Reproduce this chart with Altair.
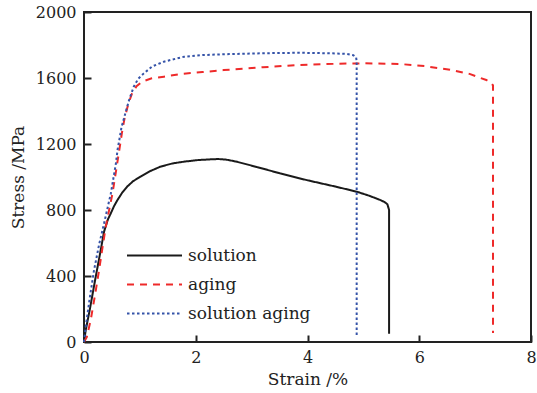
import altair as alt
import pandas as pd

# ---- data ----
series_names = ["solution", "aging", "solution aging"]

solution_strain = [0, 0.03, 0.1, 0.21, 0.29, 0.36, 0.43, 0.48, 0.54, 0.6, 0.68, 0.77, 0.88, 1.01, 1.18,
                   1.37, 1.58, 1.79, 2.05, 2.27, 2.4, 2.55, 2.73, 3.1, 3.51, 4.0, 4.5, 4.88, 5.1, 5.3,
                   5.38, 5.43, 5.46, 5.46]
solution_stress = [0, 70, 190, 396, 540, 670, 745, 780, 825, 861, 903, 941, 975, 1002, 1035,
                   1063, 1082, 1093, 1103, 1107, 1109, 1105, 1093, 1060, 1022, 980, 942, 911, 887, 861,
                   848, 835, 800, 50]

aging_strain = [0, 0.05, 0.12, 0.2, 0.27, 0.33, 0.39, 0.45, 0.51, 0.57, 0.63, 0.68, 0.72, 0.79, 0.86,
                0.94, 1.04, 1.2, 1.43, 1.72, 2.12, 2.5, 3.2, 3.86, 4.5, 5.0, 5.65, 6.1, 6.55, 6.9,
                7.08, 7.2, 7.28, 7.32, 7.32]
aging_stress = [0, 30, 133, 290, 436, 570, 700, 800, 900, 1030, 1160, 1270, 1345, 1440, 1507,
                1550, 1578, 1597, 1608, 1624, 1636, 1648, 1665, 1679, 1686, 1689, 1685, 1672, 1650, 1625,
                1602, 1588, 1574, 1555, 55]

sa_strain = [0, 0.03, 0.1, 0.18, 0.27, 0.36, 0.42, 0.48, 0.53, 0.57, 0.6, 0.64, 0.67, 0.74, 0.81,
             0.89, 0.97, 1.07, 1.22, 1.43, 1.79, 2.12, 2.6, 3.2, 3.86, 4.4, 4.7, 4.82, 4.87, 4.88,
             4.88]
sa_stress = [0, 90, 260, 436, 590, 720, 810, 900, 1000, 1080, 1164, 1240, 1300, 1386, 1470,
             1547, 1595, 1628, 1670, 1699, 1729, 1739, 1745, 1750, 1753, 1750, 1746, 1738, 1725, 1700,
             40]

x_ticks = [0, 2, 4, 6, 8]
y_ticks = [0, 400, 800, 1200, 1600, 2000]

colors = ["#1a1a1a", "#ee2a2a", "#3553a8"]
dashes = [[1, 0], [7, 6], [2.5, 2.5]]

rows = []
for name, xs, ys in [("solution", solution_strain, solution_stress),
                     ("aging", aging_strain, aging_stress),
                     ("solution aging", sa_strain, sa_stress)]:
    for i, (x, y) in enumerate(zip(xs, ys)):
        rows.append({"series": name, "strain": x, "stress": y, "i": i})
df = pd.DataFrame(rows)

FONT = "DejaVu Serif"
TXT = "#222222"

xscale = alt.Scale(domain=[0, 8], nice=False)
yscale = alt.Scale(domain=[0, 2000], nice=False)

legend = alt.Legend(
    title=None, orient="none", legendX=60, legendY=233,
    symbolType="M-3,0H3", symbolSize=336, symbolStrokeWidth=2,
    labelFont=FONT, labelFontSize=17, labelColor=TXT, labelOffset=23,
    rowPadding=10, padding=0,
)

lines = alt.Chart(df).mark_line(strokeWidth=2).encode(
    x=alt.X("strain:Q", scale=xscale,
            axis=alt.Axis(values=x_ticks, title="Strain /%", ticks=False, domain=False, grid=False,
                          labelFlush=False, labelOverlap=False,
                          labelPadding=7, titlePadding=6, format="d",
                          labelFont=FONT, labelFontSize=16, labelColor=TXT,
                          titleFont=FONT, titleFontSize=17, titleFontWeight="normal", titleColor=TXT)),
    y=alt.Y("stress:Q", scale=yscale,
            axis=alt.Axis(values=y_ticks, title="Stress /MPa", ticks=False, domain=False, grid=False,
                          labelFlush=False, labelOverlap=False,
                          labelPadding=8, titlePadding=8, format="d",
                          labelFont=FONT, labelFontSize=16, labelColor=TXT,
                          titleFont=FONT, titleFontSize=17, titleFontWeight="normal", titleColor=TXT)),
    color=alt.Color("series:N", scale=alt.Scale(domain=series_names, range=colors), legend=legend),
    strokeDash=alt.StrokeDash("series:N", scale=alt.Scale(domain=series_names, range=dashes), legend=legend),
    order=alt.Order("i:Q"),
)

ticks = alt.Chart(df).mark_point(opacity=0).encode(
    x=alt.X("strain:Q", scale=xscale,
            axis=alt.Axis(orient="bottom", values=x_ticks, labels=False, title=None, domain=False,
                          grid=False, ticks=True, tickSize=7, tickWidth=2, tickColor=TXT, offset=-7)),
    y=alt.Y("stress:Q", scale=yscale,
            axis=alt.Axis(orient="left", values=y_ticks, labels=False, title=None, domain=False,
                          grid=False, ticks=True, tickSize=7, tickWidth=2, tickColor=TXT, offset=-7)),
)

chart = alt.layer(lines, ticks).resolve_axis(x="independent", y="independent").properties(
    width=447, height=330,
    autosize=alt.AutoSizeParams(type="none"),
    padding={"left": 84, "top": 12, "right": 6, "bottom": 51},
    background="white",
).configure_view(stroke=TXT, strokeWidth=2)

chart.save("out.html", embed_options={"renderer": "svg", "actions": False})
